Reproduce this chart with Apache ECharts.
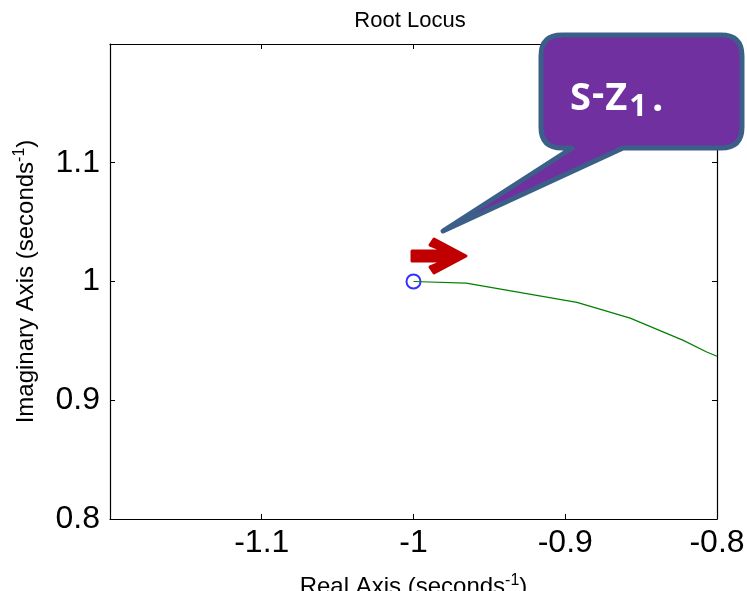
<!DOCTYPE html>
<html>
<head>
<meta charset="utf-8">
<script src="https://cdn.jsdelivr.net/npm/echarts@6/dist/echarts.min.js"></script>
<style>html,body{margin:0;padding:0;background:#fff;overflow:hidden;}#c{width:747px;height:591px;}</style>
</head>
<body>
<div id="c"></div>
<script>
// Locus branch (real part, imaginary part)
const locusReal = [-1, -0.9653, -0.8923, -0.8572, -0.8222, -0.8068, -0.8];
const locusImag = [1, 0.9986, 0.9824, 0.9692, 0.9504, 0.9406, 0.937];
// Zero marker
const zeroReal = [-1];
const zeroImag = [1];
const xTicks = [-1.2, -1.1, -1, -0.9, -0.8];
const yTicks = [0.8, 0.9, 1, 1.1, 1.2];
const titleText = 'Root Locus';
const calloutText = ['S', '-', 'Z', '1', '.'];

const FONT = '"Liberation Sans", Arial, sans-serif';
const CFONT = '"Open Sans", "Noto Sans", sans-serif';

const CalloutShape = echarts.graphic.extendShape({
  shape: {x1: 541, y1: 35, x2: 742, y2: 148, r: 21, bl: 572, br: 623, tx: 443, ty: 231},
  buildPath: function (ctx, s) {
    ctx.moveTo(s.x1 + s.r, s.y1);
    ctx.lineTo(s.x2 - s.r, s.y1);
    ctx.quadraticCurveTo(s.x2, s.y1, s.x2, s.y1 + s.r);
    ctx.lineTo(s.x2, s.y2 - s.r);
    ctx.quadraticCurveTo(s.x2, s.y2, s.x2 - s.r, s.y2);
    ctx.lineTo(s.br, s.y2);
    ctx.lineTo(s.tx, s.ty);
    ctx.lineTo(s.bl, s.y2);
    ctx.lineTo(s.x1 + s.r, s.y2);
    ctx.quadraticCurveTo(s.x1, s.y2, s.x1, s.y2 - s.r);
    ctx.lineTo(s.x1, s.y1 + s.r);
    ctx.quadraticCurveTo(s.x1, s.y1, s.x1 + s.r, s.y1);
    ctx.closePath();
  }
});
echarts.graphic.registerShape('callout', CalloutShape);

const chart = echarts.init(document.getElementById('c'), null, {renderer: 'canvas'});

const axisCommon = {
  type: 'value',
  splitLine: {show: false},
  axisLine: {show: true, onZero: false, lineStyle: {color: '#000', width: 1.2}},
  axisTick: {show: true, inside: true, length: 5, lineStyle: {color: '#000', width: 1}}
};

const nameRich = {
  a: {fontFamily: FONT, fontSize: 24, color: '#000'},
  s: {fontFamily: FONT, fontSize: 16, color: '#000', padding: [0, 0, 13, 0]}
};

chart.setOption({
  animation: false,
  backgroundColor: '#fff',
  title: {
    text: titleText, left: 410, textAlign: 'center', top: 10, padding: 0,
    textStyle: {fontFamily: FONT, fontSize: 22, fontWeight: 'normal', color: '#000'}
  },
  grid: {left: 110, right: 30, top: 44, bottom: 72, containLabel: false, outerBoundsMode: 'none'},
  xAxis: [
    Object.assign({}, axisCommon, {
      position: 'bottom', min: xTicks[0], max: xTicks[xTicks.length - 1], interval: 0.1,
      axisLabel: {show: true, showMinLabel: false, margin: 8, fontFamily: FONT, fontSize: 32, color: '#000'},
      name: '{a|Real Axis (seconds}{s|-1}{a|)}', nameLocation: 'middle', nameGap: 54,
      nameTextStyle: {rich: nameRich}
    }),
    Object.assign({}, axisCommon, {
      position: 'top', min: xTicks[0], max: xTicks[xTicks.length - 1], interval: 0.1,
      axisLabel: {show: false}
    })
  ],
  yAxis: [
    Object.assign({}, axisCommon, {
      position: 'left', min: yTicks[0], max: yTicks[yTicks.length - 1], interval: 0.1,
      axisLabel: {show: true, showMaxLabel: false, margin: 10, fontFamily: FONT, fontSize: 32, color: '#000'},
      name: '{a|Imaginary Axis (seconds}{s|-1}{a|)}', nameLocation: 'middle', nameGap: 69, nameRotate: 90,
      nameTextStyle: {rich: nameRich}
    }),
    Object.assign({}, axisCommon, {
      position: 'right', min: yTicks[0], max: yTicks[yTicks.length - 1], interval: 0.1,
      axisLabel: {show: false}
    })
  ],
  series: [
    {
      type: 'line', xAxisIndex: 0, yAxisIndex: 0,
      data: locusReal.map((x, i) => [x, locusImag[i]]),
      showSymbol: false, smooth: false, clip: true,
      lineStyle: {color: '#008000', width: 1.2}
    },
    {
      type: 'scatter', xAxisIndex: 0, yAxisIndex: 0,
      data: zeroReal.map((x, i) => [x, zeroImag[i]]),
      symbol: 'emptyCircle', symbolSize: 14,
      itemStyle: {color: '#0000ff', borderColor: '#0000ff', borderWidth: 1.2}
    }
  ],
  graphic: [
    {
      type: 'callout', z: 100,
      shape: {x1: 541, y1: 35, x2: 742, y2: 148, r: 21, bl: 572, br: 623, tx: 443, ty: 231},
      style: {fill: '#7030a0', stroke: '#3c5f8a', lineWidth: 5, lineJoin: 'round'}
    },
    {
      type: 'text', z: 101, left: 570, top: 76,
      style: {
        text: '{m|' + calloutText[0] + '}{h|' + calloutText[1] + '}{z|' + calloutText[2] + '}{b|' + calloutText[3] + '}{d|' + calloutText[4] + '}',
        rich: {
          m: {fontFamily: CFONT, fontWeight: 'bold', fontSize: 38, fill: '#fff', lineHeight: 46},
          h: {fontFamily: CFONT, fontWeight: 'bold', fontSize: 38, fill: '#fff', lineHeight: 46, padding: [0, 1, 8, 1]},
          z: {fontFamily: CFONT, fontWeight: 'bold', fontSize: 38, fill: '#fff', lineHeight: 46, padding: [0, 2, 0, 0]},
          b: {fontFamily: CFONT, fontWeight: 'bold', fontSize: 31, fill: '#fff', lineHeight: 46, padding: [16, 5, 0, 0]},
          d: {fontFamily: CFONT, fontWeight: 'bold', fontSize: 40, fill: '#fff', lineHeight: 46}
        }
      }
    },
    {
      type: 'polygon', z: 100,
      shape: {points: [[412, 251], [445, 251], [430, 245], [434, 239], [466, 256], [434, 273], [430, 267], [445, 261], [412, 261]]},
      style: {fill: '#c00000', stroke: '#c00000', lineWidth: 3, lineJoin: 'round'}
    }
  ]
});
</script>
</body>
</html>
